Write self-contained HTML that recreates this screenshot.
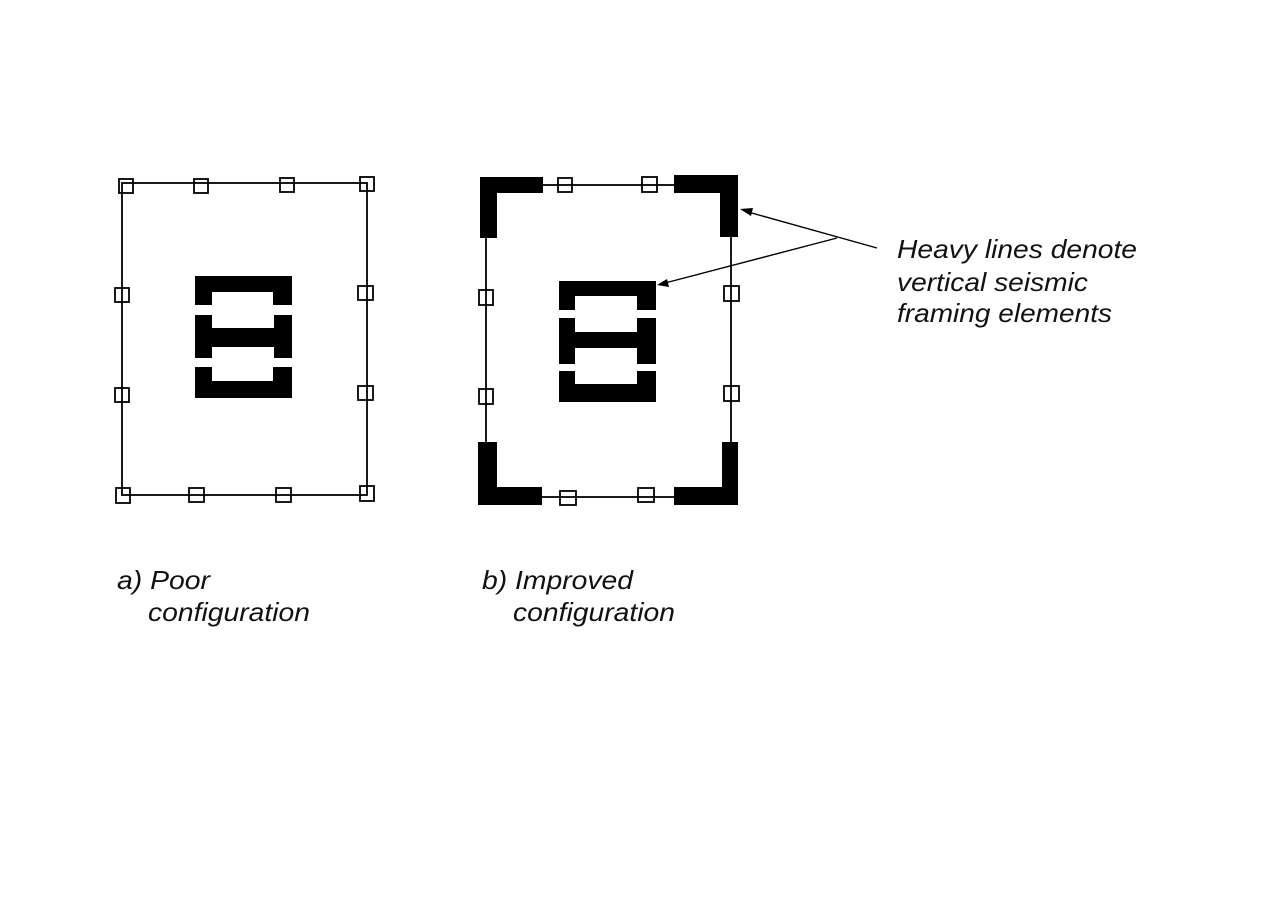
<!DOCTYPE html>
<html><head><style>html,body{margin:0;padding:0;background:#fff}</style></head>
<body>
<svg width="1263" height="893" viewBox="0 0 1263 893" xmlns="http://www.w3.org/2000/svg">
<rect width="1263" height="893" fill="#fff"/>
<g fill="none" stroke="#000" stroke-width="1.8">
<rect x="122" y="183" width="245" height="312"/>
<rect x="119" y="179" width="14" height="14"/>
<rect x="194" y="179" width="14" height="14"/>
<rect x="280" y="178" width="14" height="14"/>
<rect x="360" y="177" width="14" height="14"/>
<rect x="115" y="288" width="14" height="14"/>
<rect x="115" y="388" width="14" height="14"/>
<rect x="358" y="286" width="15" height="14"/>
<rect x="358" y="386" width="15" height="14"/>
<rect x="116" y="488" width="14" height="15"/>
<rect x="189" y="488" width="15" height="14"/>
<rect x="276" y="488" width="15" height="14"/>
<rect x="360" y="486" width="14" height="15"/>
<rect x="486" y="185" width="245" height="312"/>
<rect x="558" y="178" width="14" height="14"/>
<rect x="642" y="177" width="15" height="15"/>
<rect x="479" y="290" width="14" height="15"/>
<rect x="479" y="389" width="14" height="15"/>
<rect x="724" y="286" width="15" height="15"/>
<rect x="724" y="386" width="15" height="15"/>
<rect x="560" y="491" width="16" height="14"/>
<rect x="638" y="488" width="16" height="14"/>
</g>
<g fill="#000">
<path d="M195 276H292V305H273V292H212V305H195Z"/>
<path d="M195 315H212V328H274V315H292V358H274V347H212V358H195Z"/>
<path d="M195 367H212V381H273V367H292V398H195Z"/>
<path d="M559 281H656V310H637V296H575V310H559Z"/>
<path d="M559 318H575V332H637V318H656V364H637V348H575V364H559Z"/>
<path d="M559 371H575V384H637V371H656V402H559Z"/>
<path d="M480 177H543V193H497V238H480Z"/>
<path d="M674 175H738V237H720V193H674Z"/>
<path d="M478 442H497V487H542V505H478Z"/>
<path d="M722 442H738V505H674V487H722Z"/>
</g>
<g stroke="#000" stroke-width="1.4" fill="none">
<line x1="877" y1="248" x2="748" y2="212"/>
<line x1="837" y1="238" x2="665" y2="283"/>
</g>
<polygon points="740,209 753,208 751,216" fill="#000"/>
<polygon points="657,285 667,279 669,287" fill="#000"/>
<g font-family="Liberation Sans, sans-serif" font-style="italic" font-size="26" fill="#111">
<text x="897" y="258" textLength="240" lengthAdjust="spacingAndGlyphs">Heavy lines denote</text>
<text x="897" y="291" textLength="191" lengthAdjust="spacingAndGlyphs">vertical seismic</text>
<text x="897" y="322" textLength="215" lengthAdjust="spacingAndGlyphs">framing elements</text>
<text x="117" y="589" textLength="93" lengthAdjust="spacingAndGlyphs">a) Poor</text>
<text x="148" y="621" textLength="162" lengthAdjust="spacingAndGlyphs">configuration</text>
<text x="482" y="589" textLength="151" lengthAdjust="spacingAndGlyphs">b) Improved</text>
<text x="513" y="621" textLength="162" lengthAdjust="spacingAndGlyphs">configuration</text>
</g>
</svg>
</body></html>
